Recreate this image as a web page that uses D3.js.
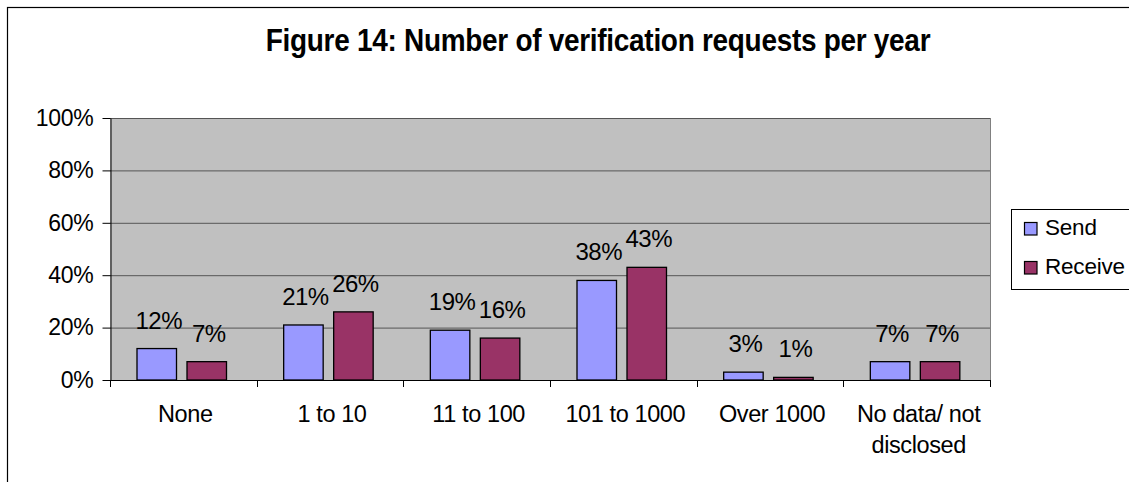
<!DOCTYPE html>
<html>
<head>
<meta charset="utf-8">
<script src="https://cdn.jsdelivr.net/npm/d3@7"></script>
<style>
  body { margin: 0; background: #fff; }
  svg { display: block; font-family: "Liberation Sans", Arial, sans-serif; }
</style>
</head>
<body>
<div id="chart"></div>
<script>
const categories = ['None', '1 to 10', '11 to 100', '101 to 1000', 'Over 1000', 'No data/ not disclosed'];
const sendValues = [12, 21, 19, 38, 3, 7];
const receiveValues = [7, 26, 16, 43, 1, 7];
const seriesNames = ['Send', 'Receive'];
const yTicks = [0, 20, 40, 60, 80, 100];

const width = 1129;
const height = 482;
const plot = { left: 110, right: 990, top: 118, bottom: 380 };
const colors = ['#9999FF', '#993366'];

const svg = d3.select('#chart')
  .append('svg')
  .attr('width', width)
  .attr('height', height);

// outer frame (only top and left edges fall inside the picture)
svg.append('rect')
  .attr('x', 7.5).attr('y', 7.5)
  .attr('width', width + 20).attr('height', height + 20)
  .attr('fill', 'none')
  .attr('stroke', '#000')
  .attr('stroke-width', 1.2);

svg.append('text')
  .attr('x', 598).attr('y', 51)
  .attr('text-anchor', 'middle')
  .attr('font-size', 28)
  .attr('font-weight', 'bold')
  .attr('letter-spacing', -0.3)
  .attr('transform', 'translate(0,51) scale(1,1.12) translate(0,-51)')
  .text('Figure 14: Number of verification requests per year');

const x0 = d3.scaleBand()
  .domain(categories)
  .range([plot.left, plot.right])
  .paddingInner(0)
  .paddingOuter(0);

const x1 = d3.scaleBand()
  .domain(seriesNames)
  .range([27, 116.5])
  .paddingInner(0.21)
  .paddingOuter(0);

const y = d3.scaleLinear().domain([0, 100]).range([plot.bottom, plot.top]);

// plot background
svg.append('rect')
  .attr('x', plot.left).attr('y', plot.top)
  .attr('width', plot.right - plot.left)
  .attr('height', plot.bottom - plot.top)
  .attr('fill', '#C0C0C0');

// gridlines
svg.append('g')
  .selectAll('line')
  .data(yTicks.filter(t => t > 0))
  .join('line')
  .attr('x1', plot.left).attr('x2', plot.right)
  .attr('y1', d => y(d) + 0.5).attr('y2', d => y(d) + 0.5)
  .attr('stroke', '#555')
  .attr('stroke-width', 1);

// right edge of plot
svg.append('line')
  .attr('x1', plot.right + 0.5).attr('x2', plot.right + 0.5)
  .attr('y1', plot.top).attr('y2', plot.bottom)
  .attr('stroke', '#808080');

// y axis
const yAxis = svg.append('g')
  .attr('transform', `translate(${plot.left + 0.5},0)`)
  .call(d3.axisLeft(y).tickValues(yTicks).tickSize(8).tickSizeOuter(0).tickFormat(d => d + '%'));
yAxis.select('.domain').attr('stroke', '#000');
yAxis.selectAll('.tick line').attr('stroke', '#000');
yAxis.selectAll('.tick text')
  .attr('font-size', 23)
  .attr('letter-spacing', -0.3)
  .attr('fill', '#000')
  .attr('font-family', '"Liberation Sans", Arial, sans-serif')
  .attr('x', -17);

// x axis: baseline and category separator ticks
const xAxis = svg.append('g');
xAxis.append('line')
  .attr('x1', plot.left).attr('x2', plot.right)
  .attr('y1', plot.bottom + 0.5).attr('y2', plot.bottom + 0.5)
  .attr('stroke', '#000');
const sepPositions = categories.map(c => x0(c)).concat([plot.right]);
xAxis.selectAll('line.sep')
  .data(sepPositions)
  .join('line')
  .attr('class', 'sep')
  .attr('x1', d => Math.round(d) + 0.5).attr('x2', d => Math.round(d) + 0.5)
  .attr('y1', plot.bottom).attr('y2', plot.bottom + 7)
  .attr('stroke', '#000');

// category labels
const labelLines = c => c === 'No data/ not disclosed' ? ['No data/ not', 'disclosed'] : [c];
xAxis.selectAll('text.cat')
  .data(categories)
  .join('text')
  .attr('class', 'cat')
  .attr('text-anchor', 'middle')
  .attr('font-size', 23.5)
  .attr('letter-spacing', -0.4)
  .each(function (c) {
    const t = d3.select(this);
    labelLines(c).forEach((ln, i) => {
      t.append('tspan')
        .attr('x', x0(c) + x0.bandwidth() / 2 + 2)
        .attr('y', 422 + i * 31)
        .text(ln);
    });
  });

// bars
const rows = categories.map((c, i) => ({ cat: c, vals: [sendValues[i], receiveValues[i]] }));
const groups = svg.append('g')
  .selectAll('g')
  .data(rows)
  .join('g')
  .attr('transform', d => `translate(${x0(d.cat)},0)`);

groups.selectAll('rect')
  .data(d => d.vals.map((v, i) => ({ name: seriesNames[i], v, i })))
  .join('rect')
  .attr('x', d => x1(d.name))
  .attr('y', d => y(d.v))
  .attr('width', x1.bandwidth())
  .attr('height', d => y(0) - y(d.v))
  .attr('fill', d => colors[d.i])
  .attr('stroke', '#000')
  .attr('stroke-width', 1.3);

groups.selectAll('text')
  .data(d => d.vals.map((v, i) => ({ name: seriesNames[i], v, i })))
  .join('text')
  .attr('x', d => x1(d.name) + x1.bandwidth() / 2 + 2)
  .attr('y', d => y(d.v) - 20)
  .attr('text-anchor', 'middle')
  .attr('font-size', 24)
  .attr('letter-spacing', -0.5)
  .text(d => d.v + '%');

// legend
const legend = svg.append('g');
legend.append('rect')
  .attr('x', 1011.5).attr('y', 209.5)
  .attr('width', 130).attr('height', 80)
  .attr('fill', '#fff')
  .attr('stroke', '#000')
  .attr('stroke-width', 1);
seriesNames.forEach((name, i) => {
  legend.append('rect')
    .attr('x', 1024.5).attr('y', 222.5 + i * 39)
    .attr('width', 12.5).attr('height', 12.5)
    .attr('fill', colors[i])
    .attr('stroke', '#000')
    .attr('stroke-width', 1.2);
  legend.append('text')
    .attr('x', 1045).attr('y', 235 + i * 39)
    .attr('font-size', 22.5)
    .attr('letter-spacing', -0.2)
    .text(name);
});
</script>
</body>
</html>
